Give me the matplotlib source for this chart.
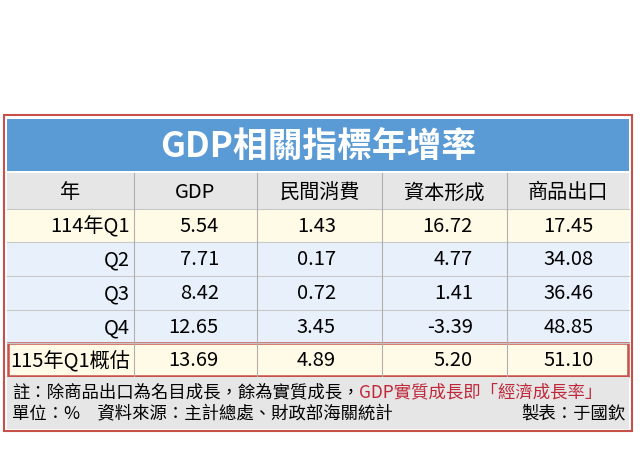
import matplotlib.pyplot as plt
from matplotlib.patches import Rectangle

plt.rcParams['font.family'] = ['Noto Sans CJK TC', 'DejaVu Sans']

title = 'GDP相關指標年增率'
headers = ['年', 'GDP', '民間消費', '資本形成', '商品出口']
row_labels = ['114年Q1', 'Q2', 'Q3', 'Q4', '115年Q1概估']
gdp = ['5.54', '7.71', '8.42', '12.65', '13.69']
consumption = ['1.43', '0.17', '0.72', '3.45', '4.89']
capital = ['16.72', '4.77', '1.41', '-3.39', '5.20']
exports = ['17.45', '34.08', '36.46', '48.85', '51.10']
columns = [gdp, consumption, capital, exports]

fig = plt.figure(figsize=(6.4, 4.6), dpi=100)
ax = fig.add_axes([0, 0, 1, 1])
ax.set_xlim(0, 640)
ax.set_ylim(460, 0)
ax.axis('off')

red = '#c8504a'
# outer frame
ax.add_patch(Rectangle((4, 116), 628, 316, fc='white', ec=red, lw=1.5))
# title band
ax.add_patch(Rectangle((7, 120), 622, 52, fc='#5b9bd5', ec='none'))
ax.text(318, 147, title, color='white', fontsize=25, fontweight='bold', ha='center', va='center')
# header row
ax.add_patch(Rectangle((7, 174), 622, 36, fc='#e6e6e6', ec='none'))
col_edges = [7, 134, 257, 382, 507, 629]
for i, h in enumerate(headers):
    ax.text((col_edges[i] + col_edges[i + 1]) / 2, 193, h, fontsize=14.5, ha='center', va='center')

row_tops = [210, 243, 277, 311, 344]
row_h = [33, 34, 34, 33, 33]
fills = ['#fffbe6', '#e8f1fb', '#e8f1fb', '#e8f1fb', '#fffbe6']
num_right = [219, 336, 473, 594]
for r, lab in enumerate(row_labels):
    y0, h = row_tops[r], row_h[r]
    ax.add_patch(Rectangle((7, y0), 622, h, fc=fills[r], ec='none'))
    ax.plot([7, 629], [y0, y0], color='#c8c8c8', lw=0.8)
    yc = y0 + h / 2
    ax.text(130, yc, lab, fontsize=14.5, ha='right', va='center')
    for c, col in enumerate(columns):
        ax.text(num_right[c], yc, col[r], fontsize=14.5, ha='right', va='center')
# vertical separators
for x in col_edges[1:-1]:
    ax.plot([x, x], [174, 377], color='#b0b0b0', lw=0.8)
# highlight last row
ax.add_patch(Rectangle((8, 344), 620, 33, fc='none', ec=red, lw=1.8))

# footer
ax.add_patch(Rectangle((7, 378), 622, 52, fc='#e6e6e6', ec='none'))
t1 = ax.text(12, 392, '註：除商品出口為名目成長，餘為實質成長，', fontsize=12.5, ha='left', va='center')
ax.annotate('GDP實質成長即「經濟成長率」', xy=(1, 0.5), xycoords=t1, fontsize=12.5,
            ha='left', va='center', color='#c0283a')
ax.text(12, 414, '單位：%　資料來源：主計總處、財政部海關統計', fontsize=12.5, ha='left', va='center')
ax.text(626, 414, '製表：于國欽', fontsize=12.5, ha='right', va='center')

fig.savefig('out.png', dpi=100)
